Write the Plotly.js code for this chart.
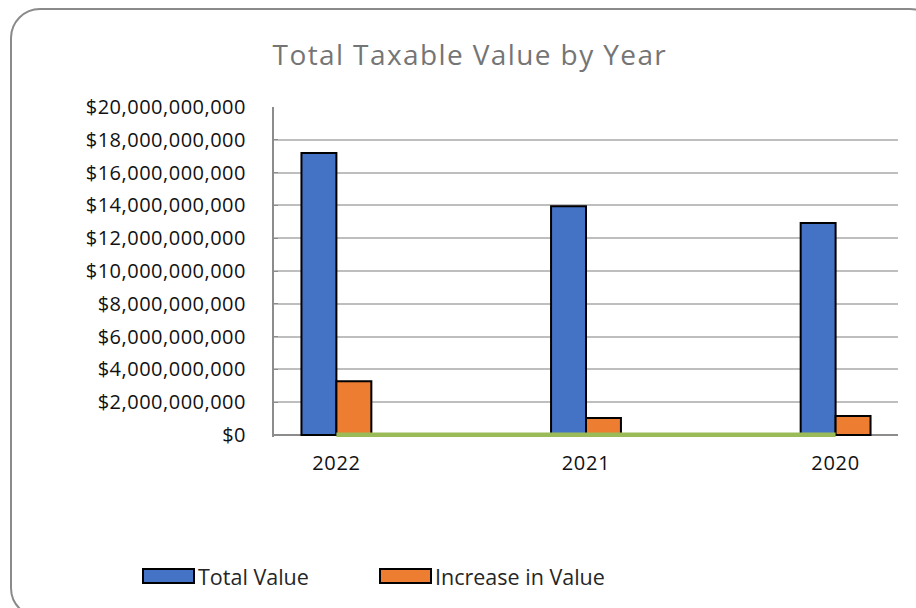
<!DOCTYPE html>
<html>
<head>
<meta charset="utf-8">
<script src="https://cdn.plot.ly/plotly-3.0.1.min.js"></script>
<style>
  html, body { margin: 0; padding: 0; background: #ffffff; overflow: hidden; }
  #frame { position: absolute; left: 10px; top: 8px; width: 930px; height: 610px;
           border: 2px solid #8a8a8a; border-radius: 30px; box-sizing: border-box; }
  #chart { position: absolute; left: 0; top: 0; width: 916px; height: 608px; }
  #chart .gtitle { letter-spacing: 1.4px; }
  #chart .ytick text { letter-spacing: 0.5px; }
  #chart .xtick text { letter-spacing: 0.7px; }
</style>
</head>
<body>
<div id="frame"></div>
<div id="chart"></div>
<script>
// ---- data ----
const years = ["2022", "2021", "2020"];
const totalValue = [17200000000, 13950000000, 12930000000];
const increaseInValue = [3280000000, 1040000000, 1160000000];
const percentIncrease = [0, 0, 0];
const yTicks = [0, 2e9, 4e9, 6e9, 8e9, 10e9, 12e9, 14e9, 16e9, 18e9, 20e9];
const seriesNames = ["Total Value", "Increase in Value"];

// ---- layout helpers ----
const L = 274, R = 898, T = 107, B = 437;   // plot box (value 0 sits at y=435)
const yMin = -0.122e9, yMax = 20e9;
const px = x => (x - L) / (R - L);
const py = y => (B - y) / (B - T);

const traces = [
  { type: "bar", x: years, y: totalValue, name: seriesNames[0], showlegend: false,
    marker: { color: "#4472C4", line: { color: "#000000", width: 2 } }, hoverinfo: "y" },
  { type: "bar", x: years, y: increaseInValue, name: seriesNames[1], showlegend: false,
    marker: { color: "#ED7D31", line: { color: "#000000", width: 2 } }, hoverinfo: "y" },
  { type: "scatter", mode: "lines", x: years, y: percentIncrease, name: "Percent Increase",
    showlegend: false, line: { color: "#9BBB59", width: 5 }, cliponaxis: false }
];

const fontFam = "'Open Sans', Lato, sans-serif";

const layout = {
  width: 916, height: 608,
  paper_bgcolor: "rgba(0,0,0,0)", plot_bgcolor: "rgba(0,0,0,0)",
  margin: { l: L, r: 916 - R, t: T, b: 608 - B },
  barmode: "group", bargap: 0.72, bargroupgap: 0,
  title: { text: "Total Taxable Value by Year", x: 0.513, xanchor: "center",
           y: 1 - 55 / 608, yanchor: "middle",
           font: { family: fontFam, size: 28, color: "#757575" } },
  xaxis: { type: "category", range: [-0.25, 2.25], showgrid: false, zeroline: false,
           showline: false, ticks: "", layer: "below traces",
           tickfont: { family: fontFam, size: 20, color: "#111111" }, ticklabelstandoff: 12 },
  yaxis: { range: [yMin, yMax], tickvals: yTicks, tickformat: "$,.0f", layer: "below traces",
           showgrid: true, gridcolor: "#BEBEBE", gridwidth: 2,
           zeroline: true, zerolinecolor: "#8c8c8c", zerolinewidth: 2,
           showline: true, linecolor: "#8c8c8c", linewidth: 2,
           ticks: "inside", ticklen: 4, tickcolor: "#8c8c8c",
           tickfont: { family: fontFam, size: 20, color: "#111111" }, ticklabelstandoff: 22 },
  shapes: [
    { type: "rect", xref: "paper", yref: "paper", x0: px(143), x1: px(194), y0: py(583), y1: py(569),
      fillcolor: "#4472C4", line: { color: "#000000", width: 2 } },
    { type: "rect", xref: "paper", yref: "paper", x0: px(380), x1: px(431), y0: py(583), y1: py(569),
      fillcolor: "#ED7D31", line: { color: "#000000", width: 2 } }
  ],
  annotations: [
    { xref: "paper", yref: "paper", x: px(196), y: py(576), xanchor: "left", yanchor: "middle",
      text: seriesNames[0], showarrow: false, font: { family: fontFam, size: 21.5, color: "#262626" } },
    { xref: "paper", yref: "paper", x: px(433), y: py(576), xanchor: "left", yanchor: "middle",
      text: seriesNames[1], showarrow: false, font: { family: fontFam, size: 21.5, color: "#262626" } }
  ]
};

Plotly.newPlot("chart", traces, layout, { displayModeBar: false, staticPlot: true });
</script>
</body>
</html>
